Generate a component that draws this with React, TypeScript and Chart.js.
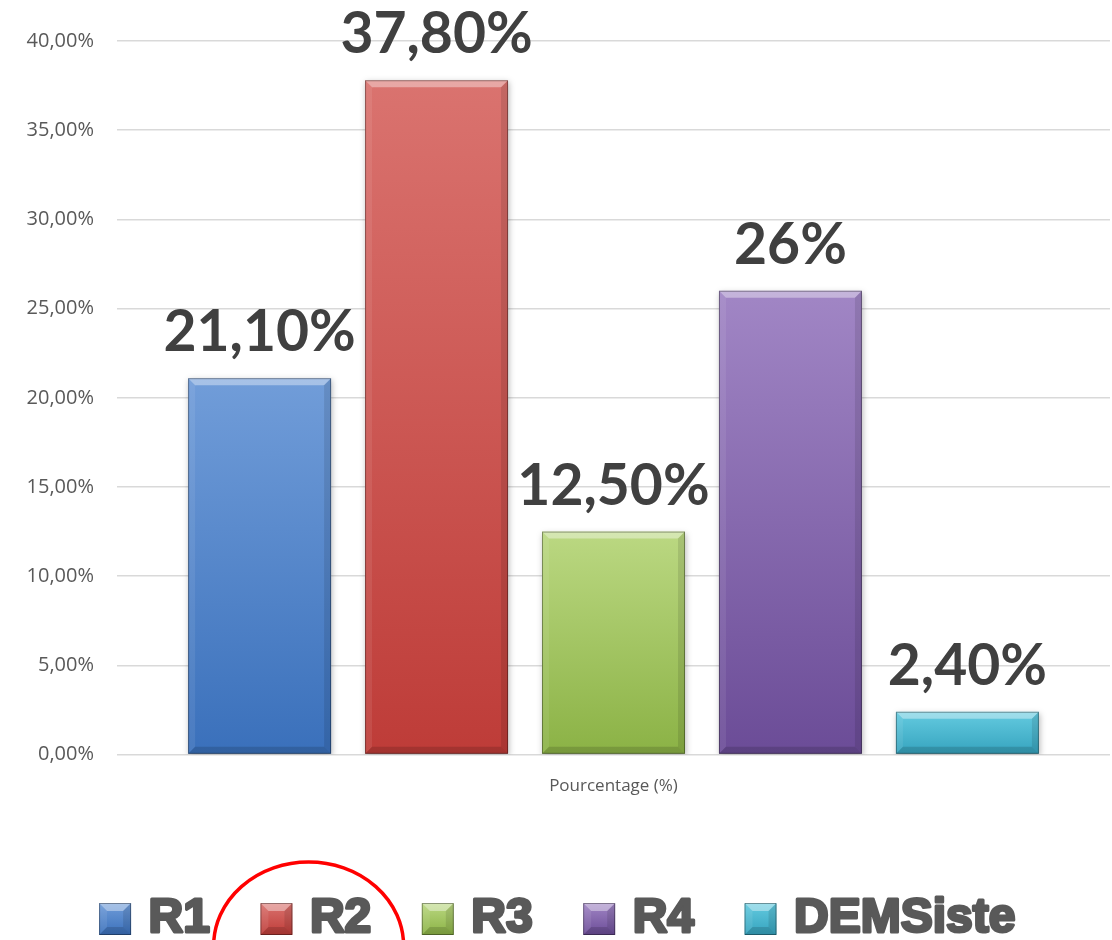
import React, { useEffect, useRef } from "react";
import { Chart, registerables } from "chart.js";
Chart.register(...registerables);

const categories = ["Pourcentage (%)"];
const seriesNames = ["R1", "R2", "R3", "R4", "DEMSiste"];
const seriesValues = [21.1, 37.8, 12.5, 26, 2.4];
const valueLabels = ["21,10%", "37,80%", "12,50%", "26%", "2,40%"];
const yMin = 0;
const yMax = 40;
const yStep = 5;
const topColors = ["#719dd9", "#da736f", "#bbd882", "#a186c5", "#64cbe0"];
const bottomColors = ["#3a70bb", "#be3c38", "#8bb245", "#6b4c97", "#35a3be"];

function drawBevel(ctx: CanvasRenderingContext2D, l: number, t: number, w: number, h: number, bv: number) {
  const r = l + w;
  const btm = t + h;
  const b = Math.min(bv, h / 2, w / 2);
  const poly = (pts: number[][], fill: string) => {
    ctx.beginPath();
    ctx.moveTo(pts[0][0], pts[0][1]);
    for (let k = 1; k < pts.length; k++) ctx.lineTo(pts[k][0], pts[k][1]);
    ctx.closePath();
    ctx.fillStyle = fill;
    ctx.fill();
  };
  poly([[l, t], [r, t], [r - b, t + b], [l + b, t + b]], "rgba(255,255,255,0.38)");
  poly([[l, t], [l + b, t + b], [l + b, btm - b], [l, btm]], "rgba(255,255,255,0.08)");
  poly([[r, t], [r, btm], [r - b, btm - b], [r - b, t + b]], "rgba(0,0,0,0.10)");
  poly([[l, btm], [l + b, btm - b], [r - b, btm - b], [r, btm]], "rgba(0,0,0,0.14)");
  ctx.strokeStyle = "rgba(0,0,0,0.35)";
  ctx.lineWidth = 1;
  ctx.strokeRect(l + 0.5, t + 0.5, w - 1, h - 1);
}

const barDecor = {
  id: "barDecor",
  beforeDatasetsDraw(chart: any) {
    const ctx = chart.ctx;
    ctx.save();
    ctx.shadowColor = "rgba(0,0,0,0.28)";
    ctx.shadowBlur = 6;
    ctx.shadowOffsetX = 1;
    ctx.shadowOffsetY = 2;
  },
  afterDatasetsDraw(chart: any) {
    const ctx = chart.ctx;
    ctx.restore();
    ctx.save();
    chart.data.datasets.forEach((ds: any, i: number) => {
      const meta = chart.getDatasetMeta(i);
      meta.data.forEach((el: any) => {
        const { x, y, base, width } = el.getProps(["x", "y", "base", "width"], true);
        drawBevel(ctx, x - width / 2, y, width, base - y, 7);
        ctx.fillStyle = "#404040";
        ctx.font = "bold 57px Lato";
        ctx.textAlign = "center";
        ctx.textBaseline = "alphabetic";
        ctx.fillText(valueLabels[i], x, y - 27);
      });
    });
    ctx.restore();
  },
};

const customLegend = {
  id: "customLegend",
  afterDraw(chart: any) {
    const ctx = chart.ctx;
    ctx.save();
    const font = "bold 48px 'Liberation Sans'";
    ctx.font = font;
    const box = 32;
    const gapText = 16;
    const gapItem = 49;
    const widths = seriesNames.map((n) => ctx.measureText(n).width + 3);
    const total = widths.reduce((a, w) => a + box + gapText + w, 0) + gapItem * (seriesNames.length - 1);
    let x = chart.width / 2 - total / 2 + 2;
    const cy = 919;
    const hits: number[][] = [];
    seriesNames.forEach((n, i) => {
      const t = cy - box / 2;
      const g = ctx.createLinearGradient(0, t, 0, t + box);
      g.addColorStop(0, topColors[i]);
      g.addColorStop(1, bottomColors[i]);
      ctx.fillStyle = g;
      ctx.fillRect(x, t, box, box);
      drawBevel(ctx, x, t, box, box, 8);
      ctx.fillStyle = "#595959";
      ctx.strokeStyle = "#595959";
      ctx.lineWidth = 3;
      ctx.lineJoin = "round";
      ctx.font = font;
      ctx.textAlign = "left";
      ctx.textBaseline = "alphabetic";
      ctx.strokeText(n, x + box + gapText + 1.5, 932);
      ctx.fillText(n, x + box + gapText + 1.5, 932);
      hits.push([x, x + box + gapText + widths[i]]);
      x += box + gapText + widths[i] + gapItem;
    });
    const h = hits[1];
    const ecx = (h[0] + h[1]) / 2 - 8;
    ctx.beginPath();
    ctx.ellipse(ecx, 946, 95, 84, 0, 0, Math.PI * 2);
    ctx.strokeStyle = "#ff0000";
    ctx.lineWidth = 3.5;
    ctx.stroke();
    ctx.restore();
  },
};

export default function App() {
  const ref = useRef<HTMLCanvasElement | null>(null);
  useEffect(() => {
    if (!ref.current) return;
    Chart.defaults.font.family = "'Open Sans'";
    const chart = new Chart(ref.current, {
      type: "bar",
      data: {
        labels: categories,
        datasets: seriesNames.map((name, i) => ({
          label: name,
          data: [seriesValues[i]],
          backgroundColor: (c: any) => {
            const ch = c.chart;
            const ys = ch.scales && ch.scales.y;
            if (!ys || !ch.chartArea) return bottomColors[i];
            const top = ys.getPixelForValue(seriesValues[i]);
            const bot = ys.getPixelForValue(0);
            const g = ch.ctx.createLinearGradient(0, top, 0, bot);
            g.addColorStop(0, topColors[i]);
            g.addColorStop(1, bottomColors[i]);
            return g;
          },
          borderWidth: 0,
          categoryPercentage: 0.891,
          barPercentage: 0.808,
        })),
      },
      options: {
        animation: false,
        responsive: true,
        maintainAspectRatio: false,
        layout: { padding: { top: 41, right: 2, bottom: 131, left: 0 } },
        plugins: {
          legend: { display: false },
          tooltip: { enabled: false },
        },
        scales: {
          x: {
            grid: { display: false },
            border: { display: false },
            ticks: { color: "#595959", font: { size: 17 }, padding: 13 },
          },
          y: {
            min: yMin,
            max: yMax,
            ticks: {
              stepSize: yStep,
              color: "#595959",
              font: { size: 20 },
              padding: 23,
              callback: (v: any) => Number(v).toFixed(2).replace(".", ",") + "%",
            },
            grid: { color: "#d9d9d9", lineWidth: 1.5, drawTicks: false },
            border: { display: false },
            afterFit: (s: any) => {
              s.width = 117;
            },
          },
        },
      },
      plugins: [barDecor, customLegend],
    });
    return () => chart.destroy();
  }, []);
  return (
    <div style={{ position: "fixed", left: 0, top: 0, width: 1112, height: 940, background: "#fff" }}>
      <canvas ref={ref} />
    </div>
  );
}
